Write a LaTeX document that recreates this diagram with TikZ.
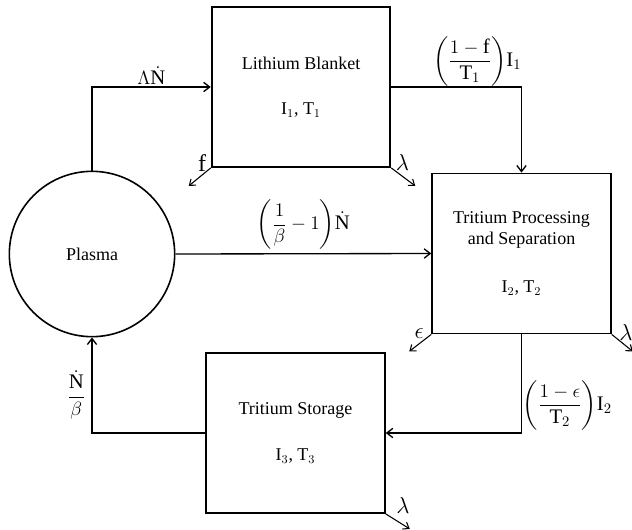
\documentclass[tikz,border=0pt]{standalone}
\usepackage{amsmath,amssymb}
\usepackage{fontspec}
\setmainfont{Liberation Serif}
\usepackage{tikz}
\usetikzlibrary{arrows.meta,positioning,calc}

\begin{document}
\begin{tikzpicture}[
  x=0.75pt, y=-0.75pt,
  box/.style={draw, line width=1.4pt, minimum width=134pt, minimum height=120pt,
              align=center, font=\fontsize{13.5}{16}\selectfont},
  core/.style={draw, circle, line width=1.2pt, minimum size=124pt,
               font=\fontsize{13.5}{16}\selectfont},
  arr/.style={-{Straight Barb[length=4.5pt,width=7pt]}, line width=1pt},
  leak/.style={-{Straight Barb[length=4pt,width=6pt]}, line width=0.8pt},
  lbl/.style={font=\fontsize{15.5}{18}\selectfont, inner sep=1.5pt},
  sym/.style={font=\fontsize{18}{20}\selectfont, inner sep=1pt}
]
  \useasboundingbox (0,0) rectangle (632,529);

  \node[core] (pl) at (92,254)    {Plasma};
  \node[box]  (lb) at (301,87)    {Lithium Blanket\\[18pt]I$_1$, T$_1$};
  \node[box]  (tp) at (521.5,253.5) {Tritium Processing\\and Separation\\[20pt]I$_2$, T$_2$};
  \node[box]  (st) at (295.5,433) {Tritium Storage\\[18pt]I$_3$, T$_3$};

  % main flows
  \draw[arr] (pl.north) |- node[pos=0.75,above,lbl]{$\Lambda\dot{\mathrm{N}}$} (lb.west);
  \draw[arr] (lb.east) -| node[pos=0.33,above,lbl,inner sep=0pt]
    {$\left(\dfrac{1-\mathrm{f}}{\mathrm{T}_1}\right)\!\mathrm{I}_1$} (tp.north);
  \draw[arr] (pl.east) -- node[above,lbl,yshift=1pt]
    {$\left(\dfrac{1}{\beta}-1\right)\!\dot{\mathrm{N}}$} (tp.west);
  \draw[arr] (tp.south) |- node[pos=0.36,right,lbl,inner sep=0.5pt]
    {$\left(\dfrac{1-\epsilon}{\mathrm{T}_2}\right)\!\mathrm{I}_2$} (st.east);
  \draw[arr] (st.west) -| node[pos=0.7,left,lbl,xshift=-3pt]
    {$\dfrac{\dot{\mathrm{N}}}{\beta}$} (pl.south);

  % losses
  \draw[leak] (lb.south west) -- ++(-22,18);
  \draw[leak] (lb.south east) -- ++(24,18);
  \draw[leak] (tp.south west) -- ++(-22,17);
  \draw[leak] (tp.south east) -- ++(21,17);
  \draw[leak] (st.south east) -- ++(24,15);
  \node[sym, anchor=east] (lf)  at ($(lb.south west)+(-3,-5)$) {f};
  \node[sym, anchor=west] (ll1) at ($(lb.south east)+(3,-5)$) {$\lambda$};
  \node[sym, anchor=east] (le)  at ($(tp.south west)+(-6,-1)$) {$\epsilon$};
  \node[sym, anchor=west] (ll2) at ($(tp.south east)+(6,-2)$) {$\lambda$};
  \node[sym, anchor=west] (ll3) at ($(st.south east)+(9,-8)$) {$\lambda$};
\end{tikzpicture}
\end{document}
